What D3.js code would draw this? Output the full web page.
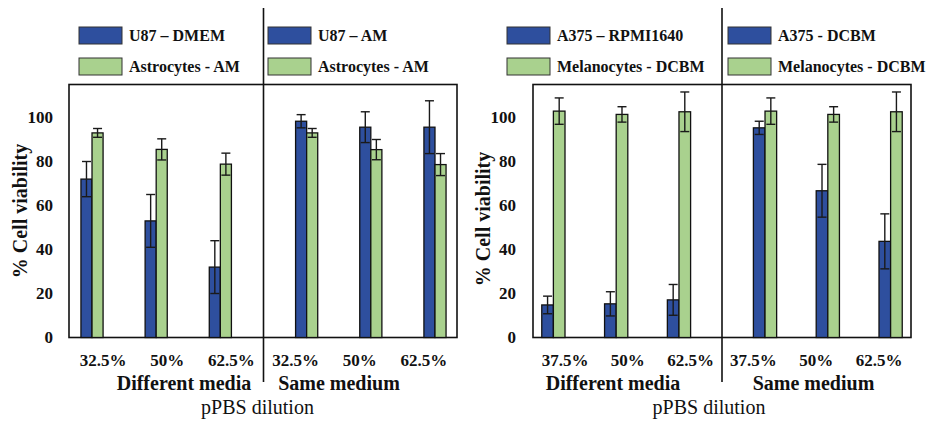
<!DOCTYPE html>
<html><head><meta charset="utf-8">
<script src="https://cdn.jsdelivr.net/npm/d3@7"></script>
<style>
body{margin:0;background:#fff}
svg{display:block}
text{font-family:"Liberation Serif","Times New Roman",serif;fill:#111}
</style>
</head><body><svg id="c" width="936" height="424"></svg>
<script>
// ---------- data ----------
const groups = ["Different media", "Same medium"];
const dilutionsLeft = ["32.5%", "50%", "62.5%"];
const dilutionsRight = ["37.5%", "50%", "62.5%"];
const yTicks = [0, 20, 40, 60, 80, 100];

const u87Dmem = [72, 53, 32];
const u87DmemErr = [8, 12, 12];
const astroAmDiff = [93, 85.5, 78.8];
const astroAmDiffErr = [2, 4.8, 5];
const u87Am = [98.3, 95.6, 95.6];
const u87AmErr = [3, 7, 12];
const astroAmSame = [93, 85.4, 78.6];
const astroAmSameErr = [2, 4.6, 5];

const a375Rpmi = [14.8, 15.3, 17.1];
const a375RpmiErr = [4, 5.5, 7];
const melanoDiff = [102.9, 101.4, 102.6];
const melanoDiffErr = [6, 3.5, 9];
const a375Dcbm = [95.3, 66.7, 43.7];
const a375DcbmErr = [3, 12, 12.5];
const melanoSame = [102.9, 101.4, 102.6];
const melanoSameErr = [6, 3.5, 9];

const BLUE = "#2e4f9e", GREEN = "#a9d18e";

const panels = [
  {
    dil: dilutionsLeft, box: [69, 457], band: [71, 456], pad: 0.31, tickPad: 16,
    yTitle: [20, 211], legendX: [79, 268], groupLabelX: [184, 339], axisTitleX: 257.5,
    series: [
      {name: "U87 – DMEM", color: BLUE, v: u87Dmem, e: u87DmemErr, half: 0, slot: 0, row: 0, col: 0},
      {name: "Astrocytes - AM", color: GREEN, v: astroAmDiff, e: astroAmDiffErr, half: 0, slot: 1, row: 1, col: 0},
      {name: "U87 – AM", color: BLUE, v: u87Am, e: u87AmErr, half: 1, slot: 2, row: 0, col: 1},
      {name: "Astrocytes - AM", color: GREEN, v: astroAmSame, e: astroAmSameErr, half: 1, slot: 3, row: 1, col: 1}
    ]
  },
  {
    dil: dilutionsRight, box: [533, 911], band: [533.6, 910.4], pad: 0.26, tickPad: 17,
    yTitle: [483, 219], legendX: [507, 728], groupLabelX: [613, 813.5], axisTitleX: 709,
    series: [
      {name: "A375 – RPMI1640", color: BLUE, v: a375Rpmi, e: a375RpmiErr, half: 0, slot: 0, row: 0, col: 0},
      {name: "Melanocytes - DCBM", color: GREEN, v: melanoDiff, e: melanoDiffErr, half: 0, slot: 1, row: 1, col: 0},
      {name: "A375 - DCBM", color: BLUE, v: a375Dcbm, e: a375DcbmErr, half: 1, slot: 2, row: 0, col: 1},
      {name: "Melanocytes - DCBM", color: GREEN, v: melanoSame, e: melanoSameErr, half: 1, slot: 3, row: 1, col: 1}
    ]
  }
];

const svg = d3.select("#c");
const TOP = 84.5, BOTTOM = 337.5;
const y = d3.scaleLinear().domain([0, 115]).range([BOTTOM, TOP]);
const legendRowY = [27, 58];

panels.forEach(p => {
  const g = svg.append("g");
  const cats = [];
  groups.forEach(gr => p.dil.forEach(d => cats.push(gr + "|" + d)));
  const x = d3.scaleBand().domain(cats).range(p.band).paddingInner(p.pad).paddingOuter(p.pad / 2);
  const inner = d3.scaleBand().domain([0, 1, 2, 3]).range([0, x.bandwidth()]);

  // plot box
  g.append("rect").attr("x", p.box[0]).attr("y", TOP).attr("width", p.box[1] - p.box[0])
    .attr("height", BOTTOM - TOP).attr("fill", "none").attr("stroke", "#111").attr("stroke-width", 1.6);

  // divider
  const divX = p.band[0] + 3 * x.step();
  g.append("line").attr("x1", divX).attr("x2", divX).attr("y1", 8).attr("y2", 382)
    .attr("stroke", "#111").attr("stroke-width", 1.6);

  // y axis
  const ya = g.append("g").attr("transform", `translate(${p.box[0]},0)`)
    .call(d3.axisLeft(y).tickValues(yTicks).tickSize(0).tickPadding(p.tickPad));
  ya.select(".domain").remove();
  ya.selectAll("text").style("font-family", '"Liberation Serif",serif').style("font-size", "17px")
    .style("font-weight", "bold").attr("fill", "#111");

  // x axis
  const xa = g.append("g").attr("transform", `translate(0,${BOTTOM})`)
    .call(d3.axisBottom(x).tickSize(0).tickPadding(16.5).tickFormat(d => d.split("|")[1]));
  xa.select(".domain").remove();
  xa.selectAll("text").style("font-family", '"Liberation Serif",serif').style("font-size", "17px")
    .style("font-weight", "bold").attr("fill", "#111");

  // bars
  p.series.forEach(s => {
    const data = s.v.map((v, i) => ({cat: groups[s.half] + "|" + p.dil[i], v, e: s.e[i]}));
    const bx = d => x(d.cat) + inner(s.slot);
    const bw = inner.bandwidth();
    g.append("g").selectAll("rect").data(data).join("rect")
      .attr("x", bx).attr("y", d => y(d.v)).attr("width", bw).attr("height", d => y(0) - y(d.v))
      .attr("fill", s.color).attr("stroke", "#111").attr("stroke-width", 1.3);
    const eb = g.append("g").attr("stroke", "#1a1a1a").attr("stroke-width", 1.4);
    data.forEach(d => {
      const cx = bx(d) + bw / 2;
      eb.append("line").attr("x1", cx).attr("x2", cx).attr("y1", y(d.v - d.e)).attr("y2", y(d.v + d.e));
      [d.v - d.e, d.v + d.e].forEach(t => eb.append("line")
        .attr("x1", cx - 4.5).attr("x2", cx + 4.5).attr("y1", y(t)).attr("y2", y(t)));
    });
    // legend
    const lx = p.legendX[s.col], ly = legendRowY[s.row];
    g.append("rect").attr("x", lx).attr("y", ly).attr("width", 43).attr("height", 17)
      .attr("fill", s.color).attr("stroke", "#333").attr("stroke-width", 1);
    g.append("text").attr("x", lx + 50).attr("y", ly + 8.5).attr("dy", "0.35em")
      .style("font-size", "16px").style("font-weight", "bold").text(s.name);
  });

  // group labels
  groups.forEach((gr, i) => {
    g.append("text").attr("x", p.groupLabelX[i]).attr("y", 390).attr("text-anchor", "middle")
      .style("font-size", "20px").style("font-weight", "bold").text(gr);
  });
  g.append("text").attr("x", p.axisTitleX).attr("y", 414).attr("text-anchor", "middle")
    .style("font-size", "20px").text("pPBS dilution");

  // y title
  g.append("text").attr("transform", `translate(${p.yTitle[0]},${p.yTitle[1]}) rotate(-90)`)
    .attr("text-anchor", "middle").attr("dy", "0.35em")
    .style("font-size", "20px").style("font-weight", "bold").text("% Cell viability");
});
</script>
</body></html>
